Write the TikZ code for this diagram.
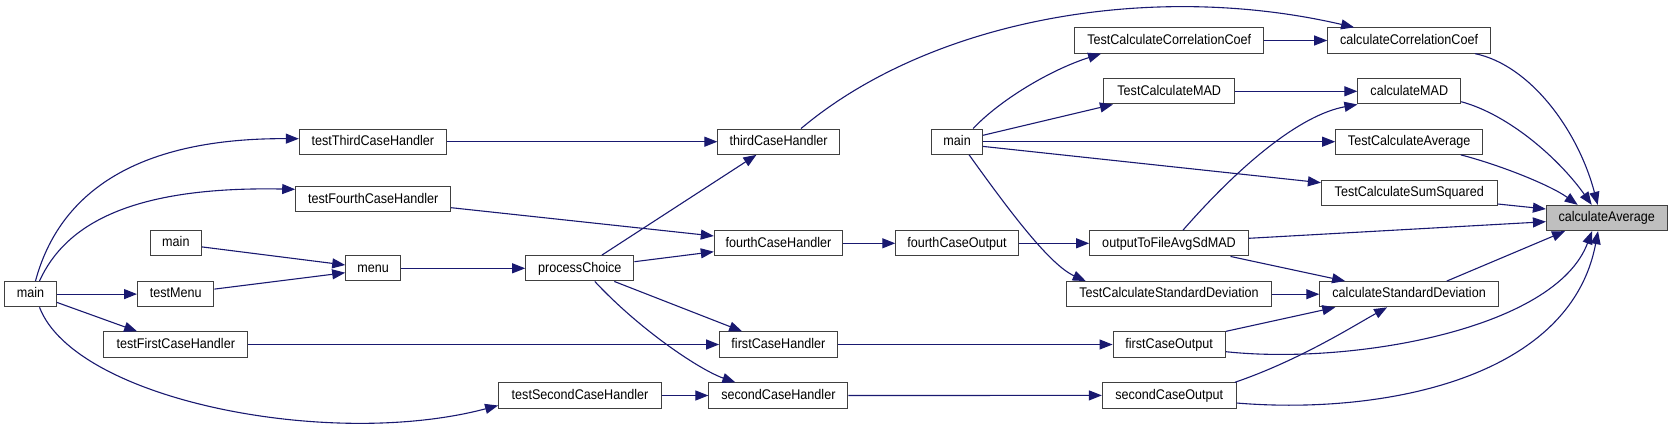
\documentclass[tikz,border=0pt]{standalone}
\usepackage{fontspec}
\setmainfont{Liberation Sans}[FakeStretch=0.9]
\usetikzlibrary{arrows.meta}
\definecolor{edgec}{HTML}{191970}
\definecolor{boxc}{HTML}{404040}
\definecolor{rootfill}{HTML}{BFBFBF}
\tikzset{
  fn/.style={draw=boxc, line width=1pt, fill=white, minimum height=25.3pt, inner sep=0pt,
    text height=10.4pt, text depth=2.9pt, font=\fontsize{14}{16}\selectfont, text=black},
  rootn/.style={fn, fill=rootfill},
  ed/.style={draw=edgec, line width=1.1pt, -{Triangle[length=13pt,width=10pt]}}
}
\begin{document}
\begin{tikzpicture}[x=1pt,y=-1pt]
\useasboundingbox (0,0) rectangle (1672,423);
% nodes
\node[rootn, minimum width=120.6pt] (cavg) at (1606.7,218) {calculateAverage};
\node[fn, minimum width=162.8pt] (ccc) at (1409.1,40.5) {calculateCorrelationCoef};
\node[fn, minimum width=102.8pt] (cmad) at (1409.3,91.3) {calculateMAD};
\node[fn, minimum width=146.8pt] (tca) at (1409.1,141.7) {TestCalculateAverage};
\node[fn, minimum width=175.8pt] (tcss) at (1409.3,192.7) {TestCalculateSumSquared};
\node[fn, minimum width=178.6pt] (csd) at (1409.1,294.2) {calculateStandardDeviation};
\node[fn, minimum width=189.3pt] (tccc) at (1169.2,40.5) {TestCalculateCorrelationCoef};
\node[fn, minimum width=130.5pt] (tcmad) at (1169.2,91.3) {TestCalculateMAD};
\node[fn, minimum width=158.7pt] (otf) at (1169,243.3) {outputToFileAvgSdMAD};
\node[fn, minimum width=205.5pt] (tcsd) at (1169,294.2) {TestCalculateStandardDeviation};
\node[fn, minimum width=112.3pt] (fco) at (1169.2,344.5) {firstCaseOutput};
\node[fn, minimum width=133.7pt] (sco) at (1169.2,395.4) {secondCaseOutput};
\node[fn, minimum width=50.7pt] (mainc) at (957.1,141.7) {main};
\node[fn, minimum width=122.5pt] (fourco) at (957,243.3) {fourthCaseOutput};
\node[fn, minimum width=121.4pt] (third) at (778.6,141.7) {thirdCaseHandler};
\node[fn, minimum width=128.2pt] (fourth) at (778.4,243.3) {fourthCaseHandler};
\node[fn, minimum width=117.5pt] (first) at (778.4,344.5) {firstCaseHandler};
\node[fn, minimum width=139pt] (second) at (778.4,395.5) {secondCaseHandler};
\node[fn, minimum width=108.2pt] (pc) at (579.8,268.3) {processChoice};
\node[fn, minimum width=162.8pt] (tsch) at (580,395.5) {testSecondCaseHandler};
\node[fn, minimum width=55pt] (menu) at (373.2,268.3) {menu};
\node[fn, minimum width=147.1pt] (ttch) at (372.9,141.7) {testThirdCaseHandler};
\node[fn, minimum width=155pt] (tfch) at (373.2,199.3) {testFourthCaseHandler};
\node[fn, minimum width=51pt] (mainb) at (175.9,243.2) {main};
\node[fn, minimum width=76.4pt] (tmenu) at (175.7,294.1) {testMenu};
\node[fn, minimum width=144.3pt] (tfirst) at (175.8,344.5) {testFirstCaseHandler};
\node[fn, minimum width=51.8pt] (maina) at (30.5,294.1) {main};
% edges into calculateAverage
\draw[ed] ([xshift=-16pt]ccc.south east) .. controls (1530,65) and (1578,130) .. ([xshift=-9pt]cavg.north);
\draw[ed] ([yshift=-10.4pt]cmad.east) .. controls (1510,115) and (1560,160) .. ([xshift=-15pt]cavg.north);
\draw[ed] ([xshift=51.6pt]tca.south) .. controls (1500,165) and (1550,185) .. ([xshift=-29pt]cavg.north);
\draw[ed] ([yshift=-11.3pt]tcss.east) -- ([yshift=9pt]cavg.west);
\draw[ed] ([yshift=5pt]otf.east) -- ([yshift=-3.7pt]cavg.west);
\draw[ed] ([xshift=37.7pt]csd.north) -- ([xshift=-41.7pt]cavg.south);
\draw[ed] ([yshift=-7.2pt]fco.east) .. controls (1350,365) and (1555,330) .. ([xshift=-14.7pt]cavg.south);
\draw[ed] ([yshift=-7.6pt]sco.east) .. controls (1380,415) and (1570,380) .. ([xshift=-8.7pt]cavg.south);
% other edges
\draw[ed] (tccc.east) -- (ccc.west);
\draw[ed] ([xshift=22.4pt]third.north) .. controls (930,20) and (1150,-20) .. ([xshift=-55pt]ccc.north);
\draw[ed] ([xshift=16pt]mainc.north) .. controls (1000,100) and (1050,70) .. ([xshift=27pt]tccc.south west);
\draw[ed] ([yshift=6.4pt]mainc.east) -- ([xshift=9.5pt]tcmad.south west);
\draw[ed] (mainc.east) -- (tca.west);
\draw[ed] ([yshift=-4.7pt]mainc.east) -- ([yshift=10pt]tcss.west);
\draw[ed] ([xshift=12pt]mainc.south) .. controls (1010,212) and (1050,265) .. ([xshift=20pt]tcsd.north west);
\draw[ed] (tcmad.east) -- (cmad.west);
\draw[ed] ([xshift=14pt]otf.north) .. controls (1240,165) and (1300,115) .. (cmad.south west);
\draw[ed] (fourco.east) -- (otf.west);
\draw[ed] ([xshift=61.5pt]otf.south) -- ([xshift=25.8pt]csd.north west);
\draw[ed] (tcsd.east) -- (csd.west);
\draw[ed] (fco.north east) -- ([xshift=16pt]csd.south west);
\draw[ed] ([xshift=-1.5pt]sco.north east) .. controls (1300,360) and (1355,325) .. ([xshift=-22pt]csd.south);
\draw[ed] (fourth.east) -- (fourco.west);
\draw[ed] (first.east) -- (fco.west);
\draw[ed] (second.east) -- (sco.west);
\draw[ed] ([xshift=22pt]pc.north) -- ([xshift=39pt]third.south west);
\draw[ed] ([yshift=6.6pt]pc.east) -- ([yshift=-8.4pt]fourth.west);
\draw[ed] ([xshift=34.5pt]pc.south) -- ([xshift=23pt]first.north west);
\draw[ed] ([xshift=15pt]pc.south) .. controls (640,330) and (700,370) .. ([xshift=27pt]second.north west);
\draw[ed] (tsch.east) -- (second.west);
\draw[ed] (ttch.east) -- (third.west);
\draw[ed] ([yshift=-8.4pt]tfch.east) -- ([yshift=7.3pt]fourth.west);
\draw[ed] (tfirst.east) -- (first.west);
\draw[ed] (menu.east) -- (pc.west);
\draw[ed] ([yshift=-3.7pt]mainb.east) -- ([yshift=3.3pt]menu.west);
\draw[ed] ([yshift=5pt]tmenu.east) -- ([yshift=-4.4pt]menu.west);
\draw[ed] ([xshift=5pt]maina.north) .. controls (60,190) and (140,138) .. ([yshift=3pt]ttch.west);
\draw[ed] ([xshift=9pt]maina.north) .. controls (65,225) and (130,186) .. ([yshift=10pt]tfch.west);
\draw[ed] (maina.east) -- (tmenu.west);
\draw[ed] ([yshift=-8.3pt]maina.east) -- ([xshift=34pt]tfirst.north west);
\draw[ed] ([xshift=9pt]maina.south) .. controls (75,400) and (330,450) .. ([yshift=-10pt]tsch.west);
\end{tikzpicture}
\end{document}
